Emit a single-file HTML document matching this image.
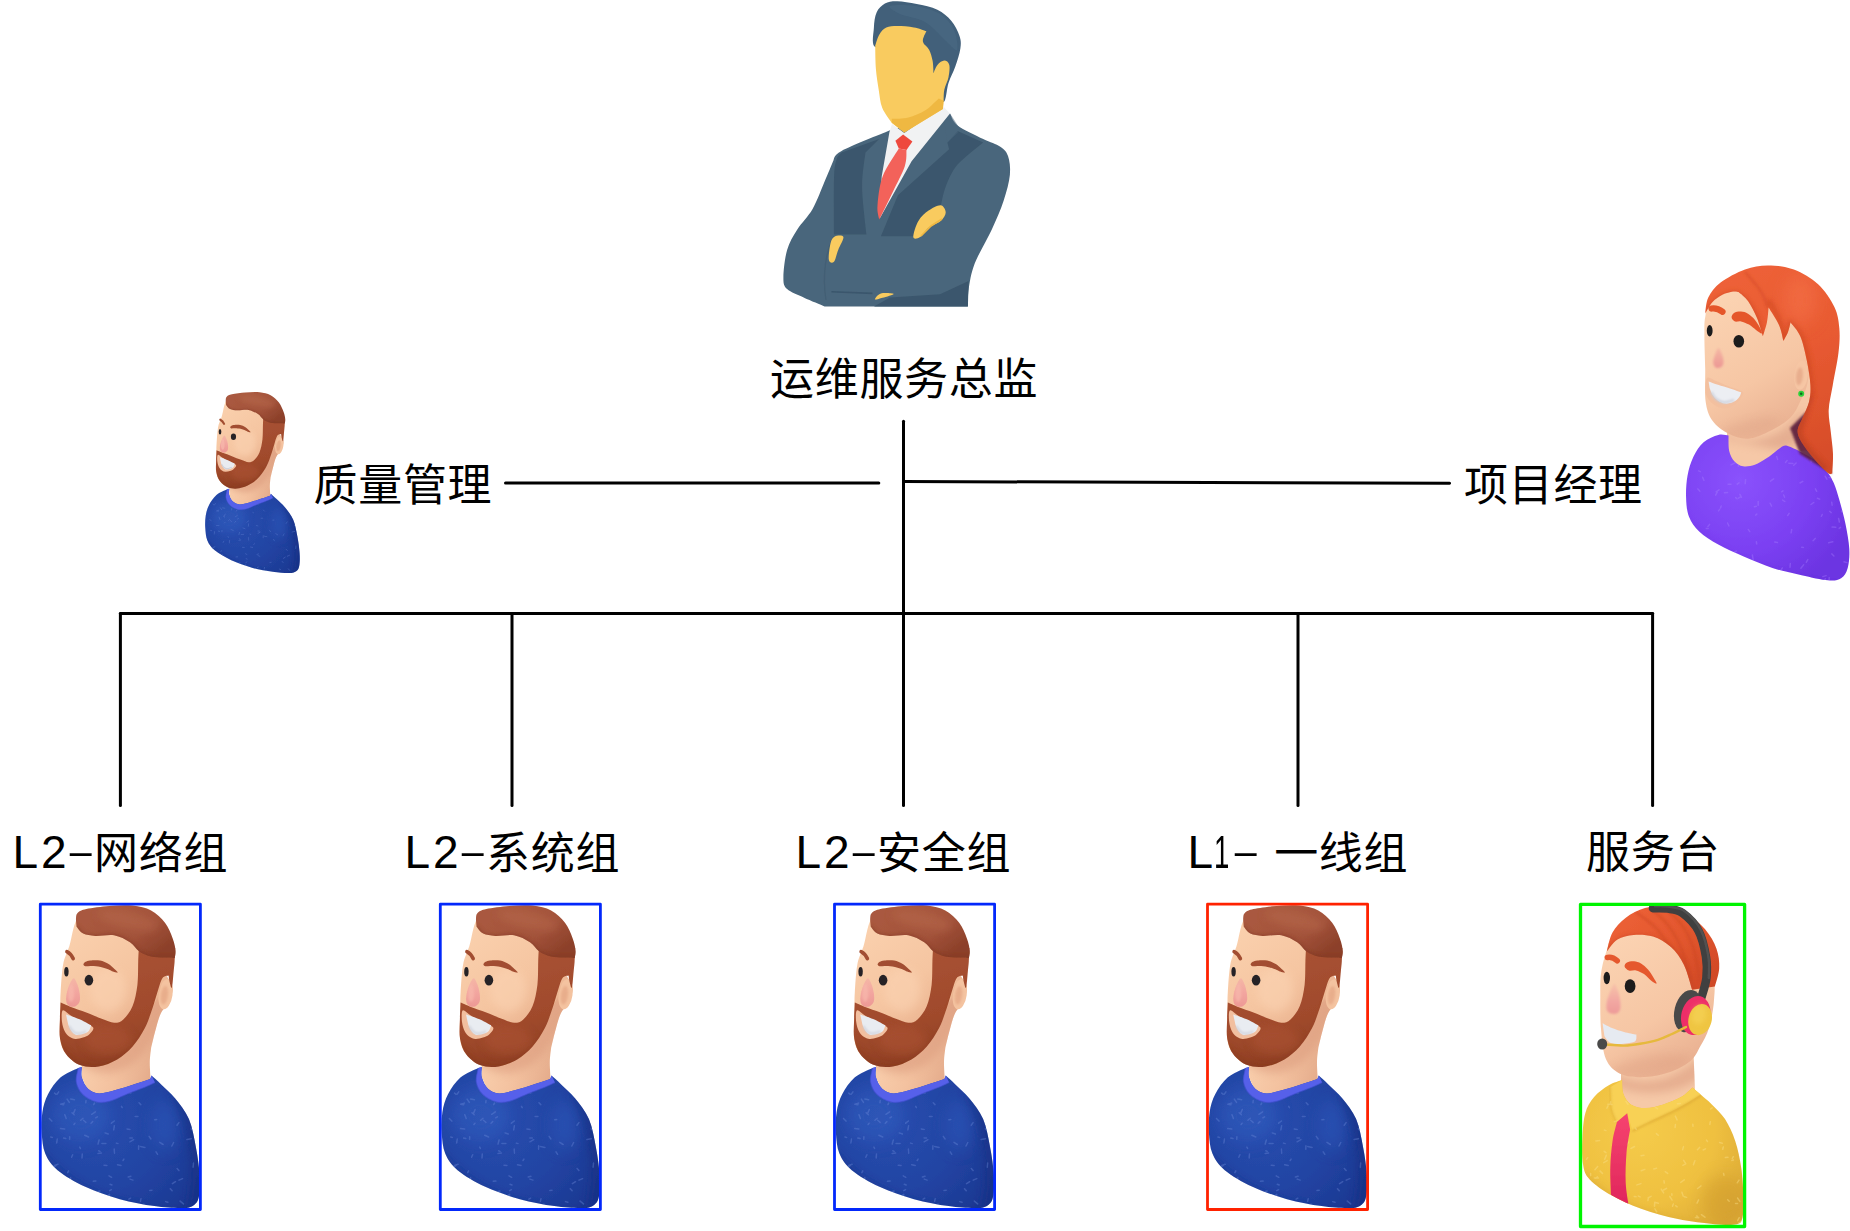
<!DOCTYPE html>
<html lang="zh-CN"><head><meta charset="utf-8"><title>运维服务组织架构</title>
<style>
html,body{margin:0;padding:0;background:#fff;}
body{width:1850px;height:1231px;overflow:hidden;position:relative;}
svg{display:block;}
.lbl{position:absolute;white-space:pre;font-family:"Liberation Sans", "Noto Sans CJK SC", sans-serif;font-size:44px;line-height:64px;height:64px;font-weight:400;color:#000;letter-spacing:0.7px;}
.lat{font-size:46px;letter-spacing:3px;position:relative;top:-1.6px;}
.hy{display:inline-block;transform:scale(1.95,0.75);transform-origin:50% 34.4px;margin:0 6px 0 3px;letter-spacing:0;position:relative;top:-0.6px;}
</style></head><body>
<svg width="1850" height="1231" viewBox="0 0 1850 1231">
<defs>

<filter id="soft" x="-5%" y="-5%" width="110%" height="110%"><feGaussianBlur stdDeviation="0.45"/></filter>
<filter id="b05" x="-5%" y="-5%" width="110%" height="110%"><feGaussianBlur stdDeviation="0.5"/></filter>
<filter id="b07" x="-20%" y="-20%" width="140%" height="140%"><feGaussianBlur stdDeviation="0.7"/></filter>
<filter id="b1" x="-20%" y="-20%" width="140%" height="140%"><feGaussianBlur stdDeviation="1"/></filter>
<filter id="b2" x="-30%" y="-30%" width="160%" height="160%"><feGaussianBlur stdDeviation="2.2"/></filter>
<filter id="b4" x="-40%" y="-40%" width="180%" height="180%"><feGaussianBlur stdDeviation="4.5"/></filter>
<filter id="b8" x="-50%" y="-50%" width="200%" height="200%"><feGaussianBlur stdDeviation="8"/></filter>
<linearGradient id="mSkin" gradientUnits="userSpaceOnUse" x1="70" y1="930" x2="150" y2="1030">
 <stop offset="0" stop-color="#fad0ad"/><stop offset="0.55" stop-color="#f5c5a1"/><stop offset="1" stop-color="#e8af8c"/></linearGradient>
<linearGradient id="mNeck" gradientUnits="userSpaceOnUse" x1="80" y1="1060" x2="155" y2="1085">
 <stop offset="0" stop-color="#f9cfad"/><stop offset="0.5" stop-color="#f3c19f"/><stop offset="1" stop-color="#e2a888"/></linearGradient>
<radialGradient id="mBody" gradientUnits="userSpaceOnUse" cx="95" cy="1120" r="130">
 <stop offset="0" stop-color="#284daf"/><stop offset="0.55" stop-color="#2244a3"/><stop offset="1" stop-color="#1b3790"/></radialGradient>
<linearGradient id="mBeard" gradientUnits="userSpaceOnUse" x1="90" y1="960" x2="120" y2="1068">
 <stop offset="0" stop-color="#a85233"/><stop offset="0.6" stop-color="#a04a2c"/><stop offset="1" stop-color="#8c3d22"/></linearGradient>
<linearGradient id="mHair" gradientUnits="userSpaceOnUse" x1="110" y1="905" x2="150" y2="960">
 <stop offset="0" stop-color="#a9593f"/><stop offset="0.6" stop-color="#a2523a"/><stop offset="1" stop-color="#8c4029"/></linearGradient>
<linearGradient id="mNose" gradientUnits="userSpaceOnUse" x1="72" y1="978" x2="72" y2="1008">
 <stop offset="0" stop-color="#f5b7a6"/><stop offset="0.5" stop-color="#f2a59f"/><stop offset="1" stop-color="#ec9894"/></linearGradient>

<clipPath id="mBodyClip"><path d="M78.3 1068.0C75.3 1069.6 65.5 1073.2 60.4 1077.6C55.4 1082.0 51.0 1088.4 48.0 1094.2C45.0 1100.0 43.4 1105.8 42.4 1112.2C41.4 1118.7 41.2 1126.0 41.7 1132.9C42.2 1139.8 42.6 1147.4 45.2 1153.6C47.9 1159.8 50.9 1164.7 57.6 1170.2C64.3 1175.7 74.9 1182.0 85.3 1186.8C95.7 1191.6 108.3 1196.0 119.8 1199.2C131.3 1202.4 143.9 1204.6 154.3 1206.1C164.7 1207.6 175.3 1208.4 182.0 1208.2C188.7 1208.0 191.5 1206.9 194.4 1204.7C197.3 1202.5 198.3 1200.1 199.2 1195.0C200.1 1189.9 200.2 1182.3 199.6 1174.3C199.0 1166.2 197.6 1155.9 195.8 1146.7C194.0 1137.5 192.4 1127.2 188.9 1119.1C185.4 1111.0 179.6 1104.1 175.0 1098.3C170.4 1092.5 165.1 1088.3 161.2 1084.5C157.3 1080.7 153.2 1077.1 151.6 1075.6L150.2 1079.0C147.4 1079.9 139.4 1082.7 133.6 1084.5C127.8 1086.3 121.3 1088.6 115.6 1090.1C109.8 1091.6 103.7 1093.7 99.1 1093.5C94.5 1093.3 90.9 1091.4 88.0 1088.7C85.1 1086.0 82.8 1081.2 81.8 1077.6C80.8 1074.0 81.8 1068.8 81.8 1067.0L78.3 1068.0Z"/></clipPath>
<clipPath id="mNeckClip"><path d="M81.8 1050.0L81.8 1077.6C82.8 1079.4 85.1 1086.0 88.0 1088.7C90.9 1091.4 94.5 1093.7 99.1 1094.0C103.7 1094.3 109.8 1092.1 115.6 1090.6C121.3 1089.1 127.8 1086.8 133.6 1085.0C139.4 1083.2 147.8 1080.4 150.6 1079.5C150.5 1076.6 149.7 1067.2 149.8 1062.0C149.9 1056.8 150.9 1050.4 151.1 1048.1C151.8 1045.4 153.4 1037.7 155.0 1032.0C156.6 1026.3 158.2 1018.9 160.4 1014.2C162.6 1009.5 166.7 1005.7 168.0 1004.0C168.7 1000.8 175.0 990.7 172.0 985.0C169.0 979.3 162.0 964.2 150.0 970.0C138.0 975.8 108.3 1011.7 100.0 1020.0Z"/></clipPath>
<clipPath id="mBeardClip"><path d="M138.8 948.0C138.7 950.3 138.4 955.6 138.2 961.7C138.0 967.9 138.3 977.5 137.4 984.9C136.5 992.3 134.9 1000.2 132.6 1006.0C130.2 1011.8 126.4 1016.6 123.3 1019.4C120.2 1022.2 117.7 1022.9 114.1 1022.8C110.5 1022.7 106.3 1020.5 101.7 1018.8C97.1 1017.1 91.4 1014.6 86.3 1012.6C81.2 1010.6 75.2 1008.7 70.9 1007.0C66.6 1005.3 62.3 1003.3 60.6 1002.6C60.5 1005.5 60.0 1014.0 59.9 1020.0C59.8 1026.0 59.0 1033.2 60.1 1038.9C61.2 1044.6 62.9 1049.9 66.2 1054.3C69.5 1058.7 74.7 1063.1 80.1 1065.1C85.5 1067.1 92.4 1067.4 98.6 1066.4C104.8 1065.5 111.5 1062.7 117.2 1059.4C122.9 1056.1 128.0 1051.8 132.6 1046.6C137.2 1041.4 141.6 1034.5 144.9 1028.1C148.2 1021.7 150.5 1013.9 152.6 1008.0C154.7 1002.1 155.7 997.6 157.3 992.6C158.9 987.6 160.5 981.1 162.4 978.2C164.3 975.4 167.6 976.0 168.6 975.5C168.8 976.6 169.0 980.0 169.6 982.0C170.2 984.0 171.2 989.2 171.9 987.5C172.6 985.8 173.2 976.3 173.6 972.0C174.0 967.7 174.3 965.7 174.6 961.7C174.9 957.7 175.1 950.3 175.2 948.0L138.8 948.0Z"/></clipPath>
<clipPath id="mHairClip"><path d="M76.6 926.8C76.5 925.3 75.8 920.4 76.0 918.0C76.2 915.6 76.3 914.1 78.0 912.6C79.7 911.1 81.1 910.1 86.3 909.0C91.5 907.9 101.7 906.6 109.4 906.0C117.1 905.4 125.6 904.8 132.6 905.6C139.5 906.4 145.7 907.7 151.1 910.6C156.5 913.5 161.4 918.2 165.0 922.8C168.6 927.4 170.9 933.7 172.7 938.4C174.5 943.1 175.3 947.6 175.6 950.9C175.9 954.2 174.8 956.8 174.6 958.0C173.8 957.9 171.9 957.5 170.0 957.4C168.1 957.3 166.6 957.7 163.4 957.6C160.2 957.5 155.1 957.6 151.1 956.6C147.1 955.6 142.9 954.0 139.4 951.6C135.9 949.2 134.2 944.9 130.0 942.2C125.8 939.5 119.8 936.2 114.1 935.2C108.3 934.2 100.7 936.2 95.5 935.9C90.3 935.6 86.4 935.1 83.2 933.6C80.0 932.1 77.7 927.9 76.6 926.8Z"/></clipPath>
<g id="man" filter="url(#soft)">
<path d="M81.8 1050.0L81.8 1077.6C82.8 1079.4 85.1 1086.0 88.0 1088.7C90.9 1091.4 94.5 1093.7 99.1 1094.0C103.7 1094.3 109.8 1092.1 115.6 1090.6C121.3 1089.1 127.8 1086.8 133.6 1085.0C139.4 1083.2 147.8 1080.4 150.6 1079.5C150.5 1076.6 149.7 1067.2 149.8 1062.0C149.9 1056.8 150.9 1050.4 151.1 1048.1C151.8 1045.4 153.4 1037.7 155.0 1032.0C156.6 1026.3 158.2 1018.9 160.4 1014.2C162.6 1009.5 166.7 1005.7 168.0 1004.0C168.7 1000.8 175.0 990.7 172.0 985.0C169.0 979.3 162.0 964.2 150.0 970.0C138.0 975.8 108.3 1011.7 100.0 1020.0Z" fill="url(#mNeck)"/>
<g clip-path="url(#mNeckClip)">
<path d="M60 1040 C80 1075 110 1082 135 1062 C150 1048 160 1030 170 1000 L120 990Z" fill="#d9987a" opacity="0.55" filter="url(#b4)"/>
</g>
<path d="M78.3 1068.0C75.3 1069.6 65.5 1073.2 60.4 1077.6C55.4 1082.0 51.0 1088.4 48.0 1094.2C45.0 1100.0 43.4 1105.8 42.4 1112.2C41.4 1118.7 41.2 1126.0 41.7 1132.9C42.2 1139.8 42.6 1147.4 45.2 1153.6C47.9 1159.8 50.9 1164.7 57.6 1170.2C64.3 1175.7 74.9 1182.0 85.3 1186.8C95.7 1191.6 108.3 1196.0 119.8 1199.2C131.3 1202.4 143.9 1204.6 154.3 1206.1C164.7 1207.6 175.3 1208.4 182.0 1208.2C188.7 1208.0 191.5 1206.9 194.4 1204.7C197.3 1202.5 198.3 1200.1 199.2 1195.0C200.1 1189.9 200.2 1182.3 199.6 1174.3C199.0 1166.2 197.6 1155.9 195.8 1146.7C194.0 1137.5 192.4 1127.2 188.9 1119.1C185.4 1111.0 179.6 1104.1 175.0 1098.3C170.4 1092.5 165.1 1088.3 161.2 1084.5C157.3 1080.7 153.2 1077.1 151.6 1075.6L150.2 1079.0C147.4 1079.9 139.4 1082.7 133.6 1084.5C127.8 1086.3 121.3 1088.6 115.6 1090.1C109.8 1091.6 103.7 1093.7 99.1 1093.5C94.5 1093.3 90.9 1091.4 88.0 1088.7C85.1 1086.0 82.8 1081.2 81.8 1077.6C80.8 1074.0 81.8 1068.8 81.8 1067.0L78.3 1068.0Z" fill="url(#mBody)"/>
<g clip-path="url(#mBodyClip)">
<path d="M40 1150 C70 1190 130 1215 205 1215 L205 1230 L30 1230Z" fill="#152e80" opacity="0.55" filter="url(#b4)"/>
<path d="M200 1100 L206 1215 L185 1215 C196 1180 190 1130 170 1095Z" fill="#152e80" opacity="0.5" filter="url(#b4)"/>
<ellipse cx="80" cy="1115" rx="30" ry="28" fill="#3460c2" opacity="0.45" filter="url(#b8)"/>
<ellipse cx="165" cy="1125" rx="14" ry="26" fill="#3460c2" opacity="0.4" filter="url(#b8)"/>
<path d="M94.5 1103.1l-0.8 1.5M127.0 1128.9l3.0 0.5M50.7 1137.0l1.7 0.4M110.0 1184.2l2.0 0.8M141.0 1198.7l-0.6 2.6M194.4 1090.6l-2.1 1.0M67.1 1099.1l2.2 3.3M72.7 1154.8l-1.1 2.4M128.8 1092.5l2.1 0.4M149.1 1136.3l1.8 2.7M114.3 1121.0l-2.9 2.2M82.3 1153.9l-0.3 4.1M156.6 1119.6l-1.9 0.1M109.0 1175.9l2.6 1.4M51.0 1165.2l-2.4 2.2M178.9 1122.6l-1.9 2.7M133.7 1139.7l-3.8 2.1M117.5 1164.7l3.5 0.7M144.0 1204.2l-2.0 1.3M104.0 1165.2l2.9 0.2M70.7 1099.1l3.7 0.7M64.8 1114.7l1.4 3.9M57.3 1138.9l-0.6 4.1M170.3 1188.7l1.8 2.1M99.9 1191.1l-1.9 0.3M72.0 1112.8l2.2 2.0M135.1 1116.5l2.8 0.0M101.5 1153.0l-3.5 0.5M123.9 1159.1l-0.9 1.4M182.6 1178.6l-3.6 1.5M105.0 1132.9l3.2 1.1M54.5 1093.1l1.6 1.2M97.0 1091.3l2.0 0.0M60.5 1128.6l4.1 0.3M139.0 1102.8l1.8 1.8M100.7 1099.7l-4.0 2.1M116.3 1143.1l1.7 0.5M97.4 1116.8l-1.7 1.0M48.5 1199.1l-0.2 1.9M128.1 1088.2l-0.4 4.4M177.1 1168.5l1.8 1.9M70.6 1177.6l-0.4 3.8M95.4 1111.8l-3.7 2.5M175.5 1181.7l-3.1 2.0M79.7 1147.1l0.7 1.4M49.3 1118.5l2.5 2.6M191.3 1138.7l-4.4 0.9M191.1 1128.8l1.7 1.4M75.1 1109.5l-1.6 3.9M173.6 1142.5l-1.8 3.5M58.0 1164.3l-3.7 1.1M159.8 1142.4l3.3 2.1M95.9 1181.1l-2.7 0.2M106.4 1198.6l-1.3 1.5M64.4 1103.1l-3.7 1.2M67.4 1184.2l-3.5 0.2M98.6 1150.8l1.4 0.6M193.5 1163.0l-0.4 4.3M111.4 1189.6l-1.8 1.1M83.5 1120.2l2.4 2.2M84.7 1135.3l3.9 1.7M99.1 1140.0l-1.1 4.1M109.4 1195.1l-0.0 3.1M125.1 1087.2l0.4 2.0M45.6 1180.9l2.5 1.5M156.0 1151.8l1.6 2.6M130.0 1179.1l3.0 1.0M83.0 1118.2l-2.3 2.0M130.9 1176.2l-2.7 0.8M138.7 1145.7l-0.1 3.6M114.2 1149.0l0.3 4.3M152.0 1190.2l-2.2 0.4M130.6 1198.2l-1.7 0.9M63.6 1138.1l2.2 0.5M56.2 1165.3l-3.3 2.6M68.6 1170.9l-0.9 1.7M180.1 1201.1l3.4 2.8M105.9 1143.5l-4.0 0.1M69.7 1136.8l-0.1 2.5M74.9 1123.2l-1.0 1.2M129.8 1137.9l2.5 0.1M140.5 1146.5l4.4 0.9M165.6 1201.6l2.2 0.7M51.1 1178.5l1.2 1.4M109.6 1194.4l-1.9 1.2M67.9 1195.3l-0.8 3.5M58.7 1091.9l-1.5 2.3M56.1 1197.6l-1.6 3.6M57.8 1187.7l4.0 0.8M114.4 1125.7l-0.7 4.2M86.0 1100.5l-0.2 2.2M61.7 1104.4l2.1 0.3M92.7 1121.6l-1.7 1.6M121.5 1106.3l0.7 1.4M83.3 1086.8l-2.1 2.3" stroke="#6f8fdc" stroke-width="1.5" opacity="0.36" fill="none" stroke-linecap="round" filter="url(#b05)"/>
</g>
<path d="M78.3 1068.0C78.0 1070.3 75.6 1077.4 76.3 1081.8C77.0 1086.2 79.2 1090.9 82.5 1094.2C85.8 1097.5 91.7 1100.7 96.3 1101.8C100.9 1102.9 105.0 1102.4 110.1 1101.1C115.2 1099.8 120.9 1096.5 126.7 1094.2C132.5 1091.9 140.0 1089.2 144.7 1087.3C149.4 1085.3 153.3 1083.3 155.0 1082.5L151.6 1075.6L150.2 1079.0C147.4 1079.9 139.4 1082.7 133.6 1084.5C127.8 1086.3 121.3 1088.6 115.6 1090.1C109.8 1091.6 103.7 1093.7 99.1 1093.5C94.5 1093.3 90.9 1091.4 88.0 1088.7C85.1 1086.0 82.8 1081.2 81.8 1077.6C80.8 1074.0 81.8 1068.8 81.8 1067.0L78.3 1068.0Z" fill="#5661ea"/>
<path d="M78.3 1068.0C78.0 1070.3 75.6 1077.4 76.3 1081.8C77.0 1086.2 79.2 1090.9 82.5 1094.2C85.8 1097.5 91.7 1100.7 96.3 1101.8C100.9 1102.9 105.0 1102.4 110.1 1101.1C115.2 1099.8 120.9 1096.5 126.7 1094.2C132.5 1091.9 140.0 1089.2 144.7 1087.3C149.4 1085.3 153.3 1083.3 155.0 1082.5" fill="none" stroke="#4350d2" stroke-width="1.2" opacity="0.6"/>
<g transform="rotate(8 165.8 994)"><ellipse cx="165.6" cy="994.3" rx="7" ry="15.2" fill="#f4c3a0"/><ellipse cx="164.6" cy="995.5" rx="3.6" ry="9.5" fill="#e6a987" opacity="0.8" filter="url(#b1)"/></g>
<path d="M80.0 915.0C73.2 921.0 72.1 938.0 69.3 946.3C66.5 954.6 64.5 957.1 63.1 964.8C61.7 972.5 61.1 985.1 60.6 992.6C60.1 1000.1 60.4 1002.3 60.3 1010.0C60.2 1017.7 59.1 1031.5 60.1 1038.9C61.1 1046.3 62.9 1049.9 66.2 1054.3C69.5 1058.7 74.7 1063.2 80.1 1065.1C85.5 1067.0 92.4 1066.9 98.6 1065.9C104.8 1064.9 111.5 1062.1 117.2 1058.9C122.9 1055.7 128.0 1051.7 132.6 1046.6C137.2 1041.5 141.6 1034.5 144.9 1028.1C148.2 1021.7 150.1 1014.4 152.6 1008.0C155.1 1001.6 157.9 998.0 160.0 990.0C162.1 982.0 166.7 970.8 165.0 960.0C163.3 949.2 159.2 933.3 150.0 925.0C140.8 916.7 121.7 911.7 110.0 910.0C98.3 908.3 86.8 909.0 80.0 915.0Z" fill="url(#mSkin)"/>
<ellipse cx="108" cy="990" rx="18" ry="22" fill="#fbd3b2" opacity="0.6" filter="url(#b4)"/>
<path d="M138.8 948.0C138.7 950.3 138.4 955.6 138.2 961.7C138.0 967.9 138.3 977.5 137.4 984.9C136.5 992.3 134.9 1000.2 132.6 1006.0C130.2 1011.8 126.4 1016.6 123.3 1019.4C120.2 1022.2 117.7 1022.9 114.1 1022.8C110.5 1022.7 106.3 1020.5 101.7 1018.8C97.1 1017.1 91.4 1014.6 86.3 1012.6C81.2 1010.6 75.2 1008.7 70.9 1007.0C66.6 1005.3 62.3 1003.3 60.6 1002.6C60.5 1005.5 60.0 1014.0 59.9 1020.0C59.8 1026.0 59.0 1033.2 60.1 1038.9C61.2 1044.6 62.9 1049.9 66.2 1054.3C69.5 1058.7 74.7 1063.1 80.1 1065.1C85.5 1067.1 92.4 1067.4 98.6 1066.4C104.8 1065.5 111.5 1062.7 117.2 1059.4C122.9 1056.1 128.0 1051.8 132.6 1046.6C137.2 1041.4 141.6 1034.5 144.9 1028.1C148.2 1021.7 150.5 1013.9 152.6 1008.0C154.7 1002.1 155.7 997.6 157.3 992.6C158.9 987.6 160.5 981.1 162.4 978.2C164.3 975.4 167.6 976.0 168.6 975.5C168.8 976.6 169.0 980.0 169.6 982.0C170.2 984.0 171.2 989.2 171.9 987.5C172.6 985.8 173.2 976.3 173.6 972.0C174.0 967.7 174.3 965.7 174.6 961.7C174.9 957.7 175.1 950.3 175.2 948.0L138.8 948.0Z" fill="url(#mBeard)"/>
<g clip-path="url(#mBeardClip)">
<path d="M56 1040 C70 1072 110 1078 140 1050 C150 1040 160 1015 165 990 L180 990 L170 1080 L50 1080Z" fill="#7a3018" opacity="0.55" filter="url(#b4)"/>
<ellipse cx="108" cy="1040" rx="24" ry="14" fill="#ad5434" opacity="0.55" filter="url(#b4)"/>
<path d="M139 950 L139 1000" stroke="#b25a3a" stroke-width="3" opacity="0.35" filter="url(#b2)"/>
</g>
<path d="M62.6 1010.5C61.3 1011.7 61.6 1018.5 62.0 1022.0C62.4 1025.5 63.5 1028.7 64.7 1031.2C66.0 1033.7 67.7 1035.5 69.5 1036.8C71.3 1038.1 73.2 1038.8 75.5 1038.9C77.8 1039.0 80.7 1038.4 83.0 1037.6C85.3 1036.8 87.7 1035.9 89.4 1034.2C91.1 1032.5 94.6 1029.4 93.0 1027.2C91.4 1025.0 83.8 1023.0 80.0 1021.0C76.2 1019.0 72.9 1016.8 70.0 1015.0C67.1 1013.2 63.9 1009.3 62.6 1010.5Z" fill="#f2bf9f"/>
<path d="M66.0 1014.6C67.5 1015.1 72.0 1016.5 75.0 1017.6C78.0 1018.7 81.3 1020.1 84.0 1021.4C86.7 1022.7 90.0 1024.6 91.2 1025.2C90.9 1026.0 90.1 1029.0 89.3 1030.3C88.5 1031.5 87.8 1032.0 86.3 1032.7C84.8 1033.4 82.3 1034.2 80.5 1034.6C78.7 1034.9 77.0 1035.4 75.5 1034.8C74.0 1034.2 72.4 1032.4 71.2 1030.8C70.0 1029.2 68.8 1026.0 68.3 1025.0L66.0 1014.6Z" fill="#e9ecf1"/>
<path d="M69.0 1026.0C69.7 1026.9 71.5 1030.2 73.0 1031.5C74.5 1032.8 75.8 1033.6 78.0 1033.6C80.2 1033.6 84.7 1031.8 86.0 1031.5" fill="none" stroke="#c9cdd8" stroke-width="2" opacity="0.8" filter="url(#b1)"/>
<path d="M73.6 978.2C72.3 978.4 70.6 982.4 69.4 985.0C68.2 987.6 67.1 991.2 66.6 994.0C66.1 996.8 65.9 1000.0 66.4 1002.0C66.9 1004.0 68.1 1005.5 69.6 1006.2C71.1 1006.9 73.9 1007.0 75.6 1006.2C77.3 1005.4 78.9 1003.8 79.6 1001.6C80.3 999.4 80.0 995.9 79.6 993.0C79.2 990.1 78.2 986.5 77.2 984.0C76.2 981.5 74.9 978.0 73.6 978.2Z" fill="url(#mNose)" filter="url(#b07)"/>
<path d="M70.0 984.0C69.2 985.7 67.8 993.0 68.0 996.0C68.2 999.0 70.0 1002.0 71.0 1002.0C72.0 1002.0 73.7 998.7 74.0 996.0C74.3 993.3 73.7 988.0 73.0 986.0C72.3 984.0 70.8 982.3 70.0 984.0Z" fill="#f8b9ad" opacity="0.7" filter="url(#b1)"/>
<ellipse cx="66.4" cy="971.7" rx="2.2" ry="4.7" fill="#252326"/>
<ellipse cx="88.9" cy="980.2" rx="4.3" ry="5.4" fill="#252326"/>
<path d="M66.9 951.6 Q70.8 953.6 73.2 958.6" stroke="#a24e30" stroke-width="3.6" stroke-linecap="round" fill="none"/>
<path d="M83.4 964.4C83.4 963.7 84.5 962.5 85.6 961.8C86.7 961.1 87.8 960.6 90.2 960.4C92.6 960.2 96.9 959.9 100.0 960.5C103.1 961.1 106.2 962.4 109.0 964.2C111.8 966.0 115.4 969.8 116.8 971.2C118.2 972.6 118.0 972.5 117.4 972.6C116.8 972.7 114.5 972.2 113.0 971.6C111.5 971.0 110.5 970.1 108.1 969.2C105.6 968.4 101.3 967.0 98.3 966.5C95.3 966.0 92.3 966.0 90.2 966.0C88.1 966.0 86.5 966.5 85.4 966.2C84.3 965.9 83.4 965.1 83.4 964.4Z" fill="#a24e30"/>
<path d="M76.6 926.8C76.5 925.3 75.8 920.4 76.0 918.0C76.2 915.6 76.3 914.1 78.0 912.6C79.7 911.1 81.1 910.1 86.3 909.0C91.5 907.9 101.7 906.6 109.4 906.0C117.1 905.4 125.6 904.8 132.6 905.6C139.5 906.4 145.7 907.7 151.1 910.6C156.5 913.5 161.4 918.2 165.0 922.8C168.6 927.4 170.9 933.7 172.7 938.4C174.5 943.1 175.3 947.6 175.6 950.9C175.9 954.2 174.8 956.8 174.6 958.0C173.8 957.9 171.9 957.5 170.0 957.4C168.1 957.3 166.6 957.7 163.4 957.6C160.2 957.5 155.1 957.6 151.1 956.6C147.1 955.6 142.9 954.0 139.4 951.6C135.9 949.2 134.2 944.9 130.0 942.2C125.8 939.5 119.8 936.2 114.1 935.2C108.3 934.2 100.7 936.2 95.5 935.9C90.3 935.6 86.4 935.1 83.2 933.6C80.0 932.1 77.7 927.9 76.6 926.8Z" fill="url(#mHair)"/>
<g clip-path="url(#mHairClip)">
<path d="M180.0 960.0C177.2 960.1 168.2 960.7 163.4 960.6C158.6 960.5 155.3 960.7 151.1 959.6C146.9 958.5 141.7 956.4 138.0 954.0C134.3 951.6 133.0 947.6 129.0 945.0C125.0 942.4 119.7 939.2 114.1 938.2C108.5 937.2 100.8 939.2 95.5 938.9C90.2 938.6 85.6 938.4 82.0 936.6C78.4 934.8 75.3 929.4 74.0 928.0" stroke="#7d3520" stroke-width="7" opacity="0.6" fill="none" filter="url(#b2)"/>
<ellipse cx="128" cy="920" rx="30" ry="9" fill="#b5664b" opacity="0.6" filter="url(#b4)" transform="rotate(12 128 920)"/>
</g>
</g>


<radialGradient id="gBody" gradientUnits="userSpaceOnUse" cx="1740" cy="480" r="120">
 <stop offset="0" stop-color="#8a52fc"/><stop offset="0.6" stop-color="#7b40f2"/><stop offset="1" stop-color="#6c34e2"/></radialGradient>
<linearGradient id="gSkin" gradientUnits="userSpaceOnUse" x1="1715" y1="300" x2="1790" y2="430">
 <stop offset="0" stop-color="#fbd3b2"/><stop offset="0.6" stop-color="#f6c6a4"/><stop offset="1" stop-color="#e9b091"/></linearGradient>
<linearGradient id="gHair" gradientUnits="userSpaceOnUse" x1="1740" y1="265" x2="1835" y2="470">
 <stop offset="0" stop-color="#ee6238"/><stop offset="0.45" stop-color="#e85a31"/><stop offset="1" stop-color="#d44b28"/></linearGradient>
<linearGradient id="gNose" gradientUnits="userSpaceOnUse" x1="1718" y1="348" x2="1718" y2="368">
 <stop offset="0" stop-color="#f5b9a4"/><stop offset="1" stop-color="#ec9794"/></linearGradient>


<radialGradient id="aBody" gradientUnits="userSpaceOnUse" cx="1640" cy="1130" r="125">
 <stop offset="0" stop-color="#f5cb4a"/><stop offset="0.6" stop-color="#efc040"/><stop offset="1" stop-color="#dba935"/></radialGradient>
<linearGradient id="aSkin" gradientUnits="userSpaceOnUse" x1="1610" y1="940" x2="1690" y2="1070">
 <stop offset="0" stop-color="#fbd3b2"/><stop offset="0.6" stop-color="#f6c6a4"/><stop offset="1" stop-color="#e8ae8f"/></linearGradient>
<linearGradient id="aHair" gradientUnits="userSpaceOnUse" x1="1630" y1="905" x2="1715" y2="985">
 <stop offset="0" stop-color="#ec6036"/><stop offset="0.5" stop-color="#e3572e"/><stop offset="1" stop-color="#cf4826"/></linearGradient>
<linearGradient id="aNose" gradientUnits="userSpaceOnUse" x1="1612" y1="985" x2="1612" y2="1013">
 <stop offset="0" stop-color="#f6c0a8"/><stop offset="0.6" stop-color="#f2a7a2"/><stop offset="1" stop-color="#ee9c99"/></linearGradient>
<linearGradient id="aTie" gradientUnits="userSpaceOnUse" x1="1620" y1="1113" x2="1620" y2="1205">
 <stop offset="0" stop-color="#f6446f"/><stop offset="1" stop-color="#e0265c"/></linearGradient>

</defs>
<g stroke="#000" stroke-width="3" stroke-linecap="round" fill="none">
<line x1="903.5" y1="421.3" x2="903.5" y2="805.4"/>
<line x1="505.5" y1="483.1" x2="878.8" y2="483.1"/>
<line x1="904.0" y1="481.5" x2="1449.6" y2="483.3"/>
<line x1="120.4" y1="613.5" x2="1652.6" y2="613.5"/>
<line x1="120.4" y1="613.5" x2="120.4" y2="805.4"/>
<line x1="512.0" y1="613.5" x2="512.0" y2="805.4"/>
<line x1="1298.0" y1="613.5" x2="1298.0" y2="805.4"/>
<line x1="1652.6" y1="613.5" x2="1652.6" y2="805.4"/>
</g>
<g id="boss" filter="url(#soft)">
<path d="M875.2 47.0C870.9 44.9 873.7 33.4 873.9 27.6C874.1 21.8 874.8 16.4 876.6 12.4C878.4 8.4 881.5 5.4 884.9 3.5C888.3 1.6 892.0 1.1 897.3 1.2C902.6 1.3 910.0 2.7 916.7 4.1C923.4 5.5 931.6 6.9 937.4 9.7C943.1 12.5 947.5 16.3 951.2 20.7C954.9 25.1 958.0 31.3 959.5 35.9C961.0 40.5 961.1 43.2 960.4 48.3C959.7 53.4 957.4 60.5 955.4 66.3C953.4 72.1 950.5 77.0 948.5 82.9C946.5 88.9 946.3 102.5 943.2 102.0C940.1 101.5 937.2 90.3 930.0 80.0C922.8 69.7 909.1 45.5 900.0 40.0C890.9 34.5 879.6 49.1 875.2 47.0Z" fill="#42607a"/>
<path d="M890.0 6.0C892.5 4.7 906.7 4.7 915.0 6.0C923.3 7.3 933.5 10.0 940.0 14.0C946.5 18.0 951.2 24.0 954.0 30.0C956.8 36.0 958.5 48.3 957.0 50.0C955.5 51.7 950.3 44.7 945.0 40.0C939.7 35.3 932.5 26.3 925.0 22.0C917.5 17.7 905.8 16.7 900.0 14.0C894.2 11.3 887.5 7.3 890.0 6.0Z" fill="#4a6a84" opacity="0.6"/>
<path d="M950.0 113.4C951.3 115.4 952.1 121.1 957.6 125.4C963.1 129.7 976.1 135.4 983.2 139.0C990.3 142.6 996.2 143.8 1000.3 146.7C1004.4 149.5 1006.4 151.4 1008.0 156.1C1009.6 160.8 1010.6 167.4 1009.9 174.8C1009.2 182.2 1006.7 191.3 1003.7 200.4C1000.7 209.5 996.6 218.9 991.8 229.4C987.0 239.9 978.6 253.6 974.7 263.5C970.9 273.4 969.8 282.0 968.7 289.1C967.6 296.2 968.0 303.5 967.9 306.4L824.6 306.4C821.2 304.9 810.4 300.6 804.1 297.7C797.9 294.8 790.6 292.5 787.1 289.1C783.6 285.7 783.4 283.7 783.4 277.2C783.4 270.7 784.8 257.9 787.1 249.9C789.4 241.9 793.0 236.2 797.3 229.4C801.5 222.6 808.0 216.9 812.6 208.9C817.2 200.9 821.2 189.6 824.6 181.6C828.0 173.6 831.7 164.6 833.1 161.2C834.5 159.5 832.2 156.0 841.6 150.9C851.0 145.8 881.4 133.9 889.4 130.5L950.0 113.4Z" fill="#4a667b"/>
<path d="M841.6 152.6L879.2 139.0L865.5 152.6C864.9 158.3 862.0 173.2 862.1 186.8C862.2 200.5 865.7 226.6 866.4 234.5L834.0 234.5C834.0 225.1 833.6 190.7 834.0 178.2C834.4 165.7 835.2 163.8 836.5 159.5C837.8 155.2 840.8 153.8 841.6 152.6Z" fill="#3a576d"/>
<path d="M957.6 131.0L983.2 142.4C978.9 146.1 963.9 157.2 957.6 164.6C951.4 172.0 948.5 179.7 945.7 186.8C942.9 193.9 941.5 203.6 940.6 207.0L913.3 236.2L880.9 236.2L897.9 195.3L949.1 149.2L947.4 142.4Z" fill="#3a576d"/>
<path d="M947.4 142.4 L957.6 133 L959.4 128 L950 113.4 L944 120Z" fill="#4a667b" opacity="0.55"/>
<path d="M874 306.4 L890 297.6 L940 294.2 L968.6 281 L967.9 306.4Z" fill="#3a576d"/>
<path d="M831.4 291.7 L872.4 293.4" stroke="#3a576d" stroke-width="1.6" fill="none"/>
<path d="M834 236 C826 250 822 275 826 300" stroke="#3a576d" stroke-width="1.2" fill="none" opacity="0.5"/>
<path d="M892 124 L904.3 133 L942.9 106 L950 113.4 L911.6 161.2 L880 218 L881.7 176.5 L889.4 132.2Z" fill="#f1f2f3"/>
<path d="M875.2 45.6C875.9 43.8 877.5 37.5 879.4 34.5C881.2 31.5 883.3 29.0 886.3 27.6C889.3 26.2 892.7 26.0 897.3 26.0C901.9 26.0 909.0 26.5 913.9 27.4C918.8 28.2 924.3 30.5 926.4 31.1C925.8 32.8 922.4 38.3 922.9 41.4C923.4 44.5 927.5 46.5 929.1 49.7C930.7 52.9 931.9 56.9 932.6 60.8C933.3 64.7 933.4 71.1 933.5 73.2C934.1 71.8 935.6 67.0 937.4 64.9C939.2 62.8 942.3 60.6 944.3 60.6C946.3 60.6 948.6 62.1 949.3 64.9C950.0 67.7 949.3 73.2 948.5 77.3C947.7 81.4 945.1 85.9 944.3 89.8C943.5 93.7 943.8 97.6 943.6 100.8C943.4 104.0 943.0 107.7 942.9 109.1L904.3 132.4L891.8 122.9C890.2 120.4 884.4 113.2 882.2 107.7C880.0 102.2 879.8 96.2 878.7 89.8C877.7 83.4 876.5 76.5 875.9 69.1C875.3 61.7 875.3 49.5 875.2 45.6Z" fill="#f9cb5e"/>
<path d="M891.8 118.8C894.6 118.6 902.9 118.8 908.4 117.4C913.9 116.0 919.9 113.7 925.0 110.5C930.1 107.3 936.5 100.4 938.8 98.4L943.6 100.8L942.9 109.1L904.3 132.4L891.8 122.5Z" fill="#efb843"/>
<path d="M895.4 140.7 L903.1 134.5 L912.4 141.6 L906.5 150.1 L898.8 148.4Z" fill="#ee4a3e"/>
<path d="M898.8 148.4L906.5 150.1C906.2 152.8 907.1 159.3 904.8 166.3C902.5 173.3 897.1 183.0 892.8 191.9C888.5 200.8 881.5 215.0 879.2 219.6C878.9 217.2 876.9 212.7 877.5 205.5C878.1 198.3 879.1 186.0 882.6 176.5C886.1 167.0 896.1 153.1 898.8 148.4Z" fill="#f3625a"/>
<path d="M913.3 237.1C913.0 234.4 915.8 225.3 918.4 220.9C921.0 216.5 924.9 213.2 928.6 210.6C932.3 208.0 937.8 205.0 940.6 205.3C943.5 205.6 945.7 209.8 945.7 212.4C945.7 215.0 943.5 218.4 940.6 220.9C937.8 223.4 932.0 225.0 928.6 227.7C925.2 230.4 922.7 235.5 920.1 237.1C917.5 238.7 913.6 239.8 913.3 237.1Z" fill="#f9cb5e"/>
<path d="M921 236 L931 226 L942 219" stroke="#efb843" stroke-width="1.6" fill="none"/>
<path d="M828.9 260.1C828.3 257.0 829.6 247.1 830.6 243.1C831.6 239.1 832.7 237.4 834.8 236.4C836.9 235.4 842.8 234.8 843.4 237.1C844.0 239.3 839.8 245.8 838.2 249.9C836.6 254.0 835.5 260.1 834.0 261.8C832.5 263.5 829.5 263.2 828.9 260.1Z" fill="#f9cb5e"/>
<path d="M874.9 299.4C874.6 298.7 877.8 294.3 880.9 293.4C884.0 292.5 893.4 293.2 893.7 293.9C894.0 294.6 885.7 296.8 882.6 297.7C879.5 298.6 875.2 300.1 874.9 299.4Z" fill="#f9cb5e"/>
</g>
<g id="girl" filter="url(#soft)">
<clipPath id="gBodyClip"><path d="M1728.5 435.6C1726.8 435.5 1722.5 433.8 1718.3 434.9C1714.1 436.0 1707.8 438.5 1703.6 442.2C1699.4 445.9 1696.1 451.2 1693.4 456.8C1690.7 462.4 1688.7 469.0 1687.5 475.8C1686.3 482.6 1685.8 490.9 1686.1 497.7C1686.3 504.5 1686.8 511.1 1689.0 516.7C1691.2 522.3 1694.3 526.8 1699.2 531.4C1704.1 536.0 1711.0 540.4 1718.3 544.5C1725.6 548.6 1734.1 552.3 1743.1 556.2C1752.1 560.1 1762.7 564.7 1772.4 567.9C1782.2 571.1 1792.3 573.1 1801.6 575.2C1810.8 577.3 1821.3 579.8 1827.9 580.3C1834.5 580.8 1837.8 580.3 1841.1 578.2C1844.4 576.1 1846.3 572.8 1847.7 567.9C1849.1 563.0 1849.7 556.2 1849.3 548.9C1848.9 541.6 1847.1 532.1 1845.5 524.1C1843.9 516.1 1841.5 507.5 1839.6 500.7C1837.6 493.9 1835.8 487.7 1833.8 483.1C1831.8 478.5 1830.8 476.5 1827.9 472.9C1825.0 469.2 1820.6 464.6 1816.2 461.2C1811.8 457.8 1806.5 455.0 1801.6 452.4C1796.7 449.8 1790.4 446.6 1787.0 445.8C1783.6 445.0 1782.1 447.1 1781.1 447.3C1780.1 448.0 1777.7 449.9 1775.3 451.7C1772.9 453.5 1769.9 456.1 1766.5 458.3C1763.1 460.5 1758.7 463.5 1754.8 464.8C1750.9 466.1 1746.5 466.9 1743.1 466.3C1739.7 465.7 1736.6 463.8 1734.3 461.2C1732.0 458.6 1730.2 455.2 1729.2 450.9C1728.2 446.6 1728.6 438.2 1728.5 435.6Z"/></clipPath>
<clipPath id="gNeckClip"><path d="M1727 425 L1727 456 C1732 478 1766 474 1786 452 L1814 450 L1814 362 L1795 362Z"/></clipPath>
<path d="M1727 425 L1727 456 C1732 478 1766 474 1786 452 L1814 450 L1814 362 L1795 362Z" fill="#f6c8a7"/>
<g clip-path="url(#gNeckClip)"><path d="M1712 425 C1735 447 1775 447 1802 410 L1812 440 L1780 450 L1728 440Z" fill="#d79a80" opacity="0.55" filter="url(#b4)"/></g>
<path d="M1728.5 435.6C1726.8 435.5 1722.5 433.8 1718.3 434.9C1714.1 436.0 1707.8 438.5 1703.6 442.2C1699.4 445.9 1696.1 451.2 1693.4 456.8C1690.7 462.4 1688.7 469.0 1687.5 475.8C1686.3 482.6 1685.8 490.9 1686.1 497.7C1686.3 504.5 1686.8 511.1 1689.0 516.7C1691.2 522.3 1694.3 526.8 1699.2 531.4C1704.1 536.0 1711.0 540.4 1718.3 544.5C1725.6 548.6 1734.1 552.3 1743.1 556.2C1752.1 560.1 1762.7 564.7 1772.4 567.9C1782.2 571.1 1792.3 573.1 1801.6 575.2C1810.8 577.3 1821.3 579.8 1827.9 580.3C1834.5 580.8 1837.8 580.3 1841.1 578.2C1844.4 576.1 1846.3 572.8 1847.7 567.9C1849.1 563.0 1849.7 556.2 1849.3 548.9C1848.9 541.6 1847.1 532.1 1845.5 524.1C1843.9 516.1 1841.5 507.5 1839.6 500.7C1837.6 493.9 1835.8 487.7 1833.8 483.1C1831.8 478.5 1830.8 476.5 1827.9 472.9C1825.0 469.2 1820.6 464.6 1816.2 461.2C1811.8 457.8 1806.5 455.0 1801.6 452.4C1796.7 449.8 1790.4 446.6 1787.0 445.8C1783.6 445.0 1782.1 447.1 1781.1 447.3C1780.1 448.0 1777.7 449.9 1775.3 451.7C1772.9 453.5 1769.9 456.1 1766.5 458.3C1763.1 460.5 1758.7 463.5 1754.8 464.8C1750.9 466.1 1746.5 466.9 1743.1 466.3C1739.7 465.7 1736.6 463.8 1734.3 461.2C1732.0 458.6 1730.2 455.2 1729.2 450.9C1728.2 446.6 1728.6 438.2 1728.5 435.6Z" fill="url(#gBody)"/>
<g clip-path="url(#gBodyClip)">
<path d="M1680 520 C1720 560 1790 585 1850 590 L1850 600 L1670 600Z" fill="#5a28cc" opacity="0.5" filter="url(#b4)"/>
<path d="M1727.6 523.0l1.3 3.0M1788.9 463.2l4.0 0.2M1731.0 484.3l-2.9 0.0M1822.2 514.5l-0.8 1.8M1790.3 563.5l-0.3 3.7M1796.1 463.0l-2.4 2.3M1737.6 458.9l-2.7 1.2M1803.6 564.9l-2.7 3.3M1752.4 555.1l0.7 4.2M1828.9 467.2l2.0 0.9M1842.5 509.5l-0.9 2.2M1770.1 503.2l1.5 2.9M1782.3 568.0l-2.3 3.6M1825.3 578.9l-1.0 1.7M1826.0 575.6l-3.1 1.0M1802.8 481.4l-2.8 1.6M1735.0 462.9l-4.0 2.0M1704.0 555.1l0.5 1.9M1736.4 551.1l-1.5 0.6M1787.1 460.6l-1.6 1.9M1829.2 577.6l-0.1 4.5M1738.9 464.6l-0.5 1.5M1721.2 506.0l-0.7 1.9M1696.7 563.5l2.4 3.6M1831.7 502.2l0.4 3.0M1791.7 529.5l-0.6 3.3M1838.6 518.4l0.8 3.6M1727.5 492.6l-3.1 0.2M1776.7 456.4l0.9 3.1M1693.2 532.0l-0.7 1.5M1789.1 513.3l-1.4 2.2M1801.7 547.3l1.7 0.1M1796.8 575.4l2.0 2.0M1783.6 495.0l1.0 2.2M1748.3 529.5l1.5 2.1M1812.0 458.4l-0.8 3.6M1739.0 482.8l-1.8 1.3M1719.6 509.4l-1.1 1.5M1740.9 496.7l-2.4 1.4M1825.2 476.2l1.7 3.0M1829.8 511.4l1.4 1.2M1773.7 478.9l-3.3 2.3M1719.0 489.8l-2.8 2.0M1817.4 498.2l2.2 0.9M1815.4 488.9l1.3 2.4M1756.3 506.2l-1.9 0.5M1690.7 572.9l-4.1 1.6M1758.6 573.8l-2.1 0.5M1807.8 559.6l-1.5 2.7M1735.7 497.6l1.3 1.1M1783.0 490.9l-1.4 0.9M1832.8 541.7l-4.1 1.0M1832.1 527.1l3.7 0.2M1717.1 492.5l-1.5 2.7M1755.4 572.4l-0.9 2.4M1729.9 562.7l0.3 3.8M1745.6 479.7l-0.4 3.9M1717.1 554.0l-3.8 1.0M1820.1 455.9l-1.6 3.8M1697.9 488.9l2.0 2.3M1756.8 514.1l-1.1 1.0M1698.7 470.9l1.6 0.7M1844.0 561.8l2.9 0.8M1739.9 494.3l1.6 3.1M1782.7 500.1l2.1 1.4M1709.6 524.4l-1.7 2.1M1702.6 477.3l1.3 3.1M1813.7 502.5l-2.7 2.0M1758.2 501.6l0.0 3.6M1756.4 541.8l0.3 2.2M1774.7 541.9l2.7 0.6M1757.3 565.0l-2.6 0.5M1831.9 553.9l2.0 2.1M1709.5 556.7l-2.0 3.6M1815.2 538.4l-2.1 2.4M1706.3 528.5l1.9 0.0M1812.3 460.5l1.7 0.5M1829.1 477.4l4.0 0.3M1709.2 560.5l-2.1 3.4M1840.5 527.4l-1.3 1.0" stroke="#a880ff" stroke-width="1.5" opacity="0.36" fill="none" stroke-linecap="round" filter="url(#b05)"/>
</g>
<path d="M1790 428 L1806 412 L1832 474 L1816 464 L1800 454Z" fill="#5a1f3a" opacity="0.9" filter="url(#b1)"/>
<clipPath id="gFaceClip"><path d="M1712.0 300.0C1704.6 305.2 1706.7 309.9 1705.4 316.0C1704.1 322.1 1704.4 327.5 1704.4 336.3C1704.4 345.1 1705.0 358.0 1705.2 368.8C1705.4 379.6 1704.4 392.6 1705.6 401.3C1706.8 410.0 1708.6 415.4 1712.5 420.8C1716.4 426.2 1722.8 430.8 1728.8 433.8C1734.8 436.8 1741.3 439.2 1748.3 438.7C1755.3 438.1 1764.0 434.0 1771.0 430.5C1778.0 427.0 1785.6 422.4 1790.5 417.5C1795.4 412.6 1797.4 407.6 1800.3 401.3C1803.2 395.1 1806.7 390.2 1808.0 380.0C1809.3 369.8 1811.0 353.3 1808.0 340.0C1805.0 326.7 1799.7 309.2 1790.0 300.0C1780.3 290.8 1763.0 285.0 1750.0 285.0C1737.0 285.0 1719.4 294.8 1712.0 300.0Z"/></clipPath>
<path d="M1712.0 300.0C1704.6 305.2 1706.7 309.9 1705.4 316.0C1704.1 322.1 1704.4 327.5 1704.4 336.3C1704.4 345.1 1705.0 358.0 1705.2 368.8C1705.4 379.6 1704.4 392.6 1705.6 401.3C1706.8 410.0 1708.6 415.4 1712.5 420.8C1716.4 426.2 1722.8 430.8 1728.8 433.8C1734.8 436.8 1741.3 439.2 1748.3 438.7C1755.3 438.1 1764.0 434.0 1771.0 430.5C1778.0 427.0 1785.6 422.4 1790.5 417.5C1795.4 412.6 1797.4 407.6 1800.3 401.3C1803.2 395.1 1806.7 390.2 1808.0 380.0C1809.3 369.8 1811.0 353.3 1808.0 340.0C1805.0 326.7 1799.7 309.2 1790.0 300.0C1780.3 290.8 1763.0 285.0 1750.0 285.0C1737.0 285.0 1719.4 294.8 1712.0 300.0Z" fill="url(#gSkin)"/>
<g clip-path="url(#gFaceClip)"><ellipse cx="1750" cy="428" rx="30" ry="8" fill="#dba084" opacity="0.35" filter="url(#b4)" transform="rotate(-14 1750 428)"/></g>
<g transform="rotate(6 1801 375)"><ellipse cx="1801" cy="375.3" rx="6.8" ry="14.6" fill="#f6c6a4"/><ellipse cx="1799.6" cy="376.5" rx="3.4" ry="9" fill="#e4a686" opacity="0.75" filter="url(#b1)"/></g>
<circle cx="1801.2" cy="393.8" r="3" fill="#2fd23a"/><circle cx="1801.2" cy="393.8" r="1.3" fill="#116b1c"/>
<path d="M1705.2 313.5C1705.7 310.8 1705.8 302.4 1708.4 297.3C1711.0 292.2 1714.5 287.2 1720.6 282.6C1726.7 278.0 1737.1 272.5 1745.0 269.6C1752.9 266.7 1759.7 265.4 1767.8 265.4C1775.9 265.4 1785.4 266.5 1793.8 269.6C1802.2 272.8 1811.3 278.1 1818.1 284.3C1824.9 290.5 1830.9 299.7 1834.4 307.0C1837.9 314.3 1838.6 320.5 1839.3 328.1C1840.0 335.7 1839.6 343.0 1838.5 352.5C1837.4 362.0 1834.4 375.4 1832.8 385.0C1831.2 394.6 1829.0 402.2 1828.7 410.0C1828.4 417.8 1830.1 424.6 1830.8 431.9C1831.5 439.2 1832.8 447.0 1833.0 453.9C1833.2 460.8 1832.4 470.2 1832.3 473.5C1831.6 473.4 1830.6 474.9 1827.9 472.9C1825.2 470.8 1820.1 465.6 1816.2 461.2C1812.3 456.8 1807.6 451.5 1804.5 446.6C1801.4 441.7 1797.9 436.7 1797.6 431.9C1797.3 427.1 1800.6 423.0 1802.5 418.0C1804.4 413.0 1807.7 407.5 1809.0 402.0C1810.3 396.5 1810.8 391.9 1810.4 385.0C1810.0 378.1 1808.5 368.7 1806.8 360.6C1805.1 352.5 1803.0 342.7 1800.3 336.3C1797.6 329.9 1792.1 324.6 1790.5 322.3C1790.1 323.9 1789.2 328.9 1788.0 332.0C1786.8 335.1 1784.2 339.5 1783.4 341.0C1782.7 338.3 1781.5 330.6 1779.0 325.0C1776.5 319.4 1770.3 310.5 1768.6 307.6C1768.3 310.0 1768.0 317.2 1767.0 322.0C1766.0 326.8 1763.6 333.8 1762.9 336.2C1761.9 333.2 1759.5 323.9 1757.0 318.0C1754.5 312.1 1751.1 305.3 1748.0 301.0C1744.9 296.7 1740.2 293.5 1738.6 292.0C1737.7 291.9 1735.7 291.1 1733.0 291.6C1730.3 292.1 1725.7 293.1 1722.3 294.8C1718.9 296.6 1715.3 299.0 1712.5 302.1C1709.7 305.2 1706.4 311.6 1705.2 313.5Z" fill="url(#gHair)"/>
<clipPath id="gHairClip"><path d="M1705.2 313.5C1705.7 310.8 1705.8 302.4 1708.4 297.3C1711.0 292.2 1714.5 287.2 1720.6 282.6C1726.7 278.0 1737.1 272.5 1745.0 269.6C1752.9 266.7 1759.7 265.4 1767.8 265.4C1775.9 265.4 1785.4 266.5 1793.8 269.6C1802.2 272.8 1811.3 278.1 1818.1 284.3C1824.9 290.5 1830.9 299.7 1834.4 307.0C1837.9 314.3 1838.6 320.5 1839.3 328.1C1840.0 335.7 1839.6 343.0 1838.5 352.5C1837.4 362.0 1834.4 375.4 1832.8 385.0C1831.2 394.6 1829.0 402.2 1828.7 410.0C1828.4 417.8 1830.1 424.6 1830.8 431.9C1831.5 439.2 1832.8 447.0 1833.0 453.9C1833.2 460.8 1832.4 470.2 1832.3 473.5C1831.6 473.4 1830.6 474.9 1827.9 472.9C1825.2 470.8 1820.1 465.6 1816.2 461.2C1812.3 456.8 1807.6 451.5 1804.5 446.6C1801.4 441.7 1797.9 436.7 1797.6 431.9C1797.3 427.1 1800.6 423.0 1802.5 418.0C1804.4 413.0 1807.7 407.5 1809.0 402.0C1810.3 396.5 1810.8 391.9 1810.4 385.0C1810.0 378.1 1808.5 368.7 1806.8 360.6C1805.1 352.5 1803.0 342.7 1800.3 336.3C1797.6 329.9 1792.1 324.6 1790.5 322.3C1790.1 323.9 1789.2 328.9 1788.0 332.0C1786.8 335.1 1784.2 339.5 1783.4 341.0C1782.7 338.3 1781.5 330.6 1779.0 325.0C1776.5 319.4 1770.3 310.5 1768.6 307.6C1768.3 310.0 1768.0 317.2 1767.0 322.0C1766.0 326.8 1763.6 333.8 1762.9 336.2C1761.9 333.2 1759.5 323.9 1757.0 318.0C1754.5 312.1 1751.1 305.3 1748.0 301.0C1744.9 296.7 1740.2 293.5 1738.6 292.0C1737.7 291.9 1735.7 291.1 1733.0 291.6C1730.3 292.1 1725.7 293.1 1722.3 294.8C1718.9 296.6 1715.3 299.0 1712.5 302.1C1709.7 305.2 1706.4 311.6 1705.2 313.5Z"/></clipPath>
<g clip-path="url(#gHairClip)">
<path d="M1705.0 316.0C1706.2 314.0 1709.6 307.3 1712.5 304.1C1715.4 300.9 1718.4 298.8 1722.3 297.0C1726.2 295.2 1731.7 292.5 1736.0 293.5C1740.3 294.5 1744.5 298.6 1748.0 303.0C1751.5 307.4 1754.7 314.2 1757.0 320.0C1759.3 325.8 1761.2 335.0 1762.0 338.0" stroke="#c8421f" stroke-width="5" opacity="0.5" fill="none" filter="url(#b2)"/>
<path d="M1769.0 300.0C1770.8 303.7 1777.5 315.0 1780.0 322.0C1782.5 329.0 1782.5 340.7 1784.0 342.0C1785.5 343.3 1787.8 333.3 1789.0 330.0C1790.2 326.7 1789.0 321.0 1791.0 322.0C1793.0 323.0 1798.2 329.7 1801.0 336.0C1803.8 342.3 1806.2 350.2 1808.0 360.0C1809.8 369.8 1811.3 389.2 1812.0 395.0" stroke="#c8421f" stroke-width="5" opacity="0.5" fill="none" filter="url(#b2)"/>
<ellipse cx="1800" cy="300" rx="18" ry="26" fill="#f4714a" opacity="0.55" filter="url(#b8)"/>
<path d="M1810.0 395.0C1808.8 398.8 1804.8 411.5 1803.0 418.0C1801.2 424.5 1798.2 428.7 1799.0 434.0C1799.8 439.3 1803.5 444.0 1808.0 450.0C1812.5 456.0 1823.0 466.7 1826.0 470.0" stroke="#b83c22" stroke-width="7" opacity="0.6" fill="none" filter="url(#b2)"/>
<path d="M1745.0 272.0C1747.5 275.0 1756.2 284.2 1760.0 290.0C1763.8 295.8 1766.7 304.2 1768.0 307.0" stroke="#d64d2a" stroke-width="3" opacity="0.5" fill="none" filter="url(#b1)"/>
</g>
<path d="M1711.5 308.5 Q1717 307.5 1722.5 311.8" stroke="#e5562c" stroke-width="6.2" stroke-linecap="round" fill="none"/>
<path d="M1731.6 317.6C1731.4 316.2 1732.4 314.0 1734.0 313.0C1735.6 312.0 1738.7 311.5 1741.0 311.6C1743.3 311.7 1745.7 312.4 1748.0 313.8C1750.3 315.2 1752.9 317.4 1755.0 320.0C1757.1 322.6 1759.7 327.1 1760.8 329.4C1761.9 331.7 1762.4 333.5 1761.6 333.6C1760.8 333.7 1758.1 331.5 1756.0 330.0C1753.9 328.5 1751.5 326.0 1749.0 324.6C1746.5 323.2 1743.3 321.9 1741.0 321.4C1738.7 320.9 1736.6 322.2 1735.0 321.6C1733.4 321.0 1731.8 319.0 1731.6 317.6Z" fill="#e5562c"/>
<ellipse cx="1709.7" cy="330.8" rx="2.9" ry="5.7" fill="#1d1a1c"/>
<ellipse cx="1738.8" cy="341.2" rx="5.3" ry="6.3" fill="#1d1a1c"/>
<path d="M1718.4 348.0C1717.1 348.0 1715.5 353.5 1714.6 356.0C1713.7 358.5 1713.0 361.1 1713.2 363.0C1713.4 364.9 1714.4 366.6 1715.6 367.4C1716.8 368.2 1719.1 368.2 1720.4 367.6C1721.7 367.0 1723.0 365.5 1723.4 363.6C1723.8 361.7 1723.4 358.6 1722.6 356.0C1721.8 353.4 1719.7 348.0 1718.4 348.0Z" fill="url(#gNose)" filter="url(#b1)"/>
<path d="M1707.0 378.0C1705.3 379.8 1705.3 388.3 1705.6 392.0C1705.9 395.7 1707.3 397.7 1709.0 400.0C1710.7 402.3 1713.2 404.6 1716.0 406.0C1718.8 407.4 1722.3 408.6 1725.5 408.4C1728.7 408.2 1732.3 406.5 1735.0 404.6C1737.7 402.7 1740.4 399.2 1741.6 397.0C1742.8 394.8 1744.7 393.4 1742.4 391.6C1740.1 389.8 1732.4 387.8 1728.0 386.0C1723.6 384.2 1719.5 382.3 1716.0 381.0C1712.5 379.7 1708.7 376.2 1707.0 378.0Z" fill="#f3c09f"/>
<path d="M1708.6 381.4C1710.2 382.0 1714.4 383.6 1718.0 384.8C1721.6 386.0 1726.1 387.3 1730.0 388.6C1733.9 389.9 1739.3 391.8 1741.2 392.4C1740.9 393.1 1740.5 395.3 1739.6 396.6C1738.7 397.9 1737.6 399.3 1736.0 400.4C1734.4 401.5 1731.9 402.5 1730.0 403.0C1728.1 403.5 1726.5 404.0 1724.5 403.6C1722.5 403.2 1720.0 402.2 1718.0 400.8C1716.0 399.4 1714.0 397.1 1712.6 395.0C1711.2 392.9 1710.1 389.2 1709.6 388.0L1708.6 381.4Z" fill="#eceef3"/>
<path d="M1711.0 392.0C1711.8 393.2 1713.8 397.3 1716.0 399.0C1718.2 400.7 1721.0 402.2 1724.0 402.4C1727.0 402.6 1732.3 400.4 1734.0 400.0" fill="none" stroke="#c9cdd8" stroke-width="2.4" opacity="0.8" filter="url(#b1)"/>
</g>
<use href="#man" transform="translate(180.34 -148.88) scale(0.5975)"/>
<use href="#man" transform="translate(0.0 0)"/>
<use href="#man" transform="translate(400.0 0)"/>
<use href="#man" transform="translate(794.2 0)"/>
<use href="#man" transform="translate(1167.2 0)"/>
<g id="agent" filter="url(#soft)">
<clipPath id="aBodyClip"><path d="M1622.1 1080.1C1619.9 1081.0 1613.5 1082.5 1608.8 1085.3C1604.1 1088.1 1598.0 1092.4 1594.1 1097.1C1590.2 1101.8 1587.2 1106.3 1585.3 1113.2C1583.3 1120.1 1582.8 1129.6 1582.4 1138.2C1582.0 1146.8 1581.9 1157.8 1583.1 1164.7C1584.3 1171.6 1584.9 1174.2 1589.7 1179.4C1594.5 1184.6 1603.2 1190.7 1611.8 1195.6C1620.4 1200.5 1630.2 1204.9 1641.2 1208.8C1652.2 1212.7 1665.7 1216.5 1677.9 1219.1C1690.2 1221.7 1704.9 1223.4 1714.7 1224.3C1724.5 1225.2 1732.2 1225.5 1736.8 1224.3C1741.4 1223.1 1741.5 1221.5 1742.6 1217.0C1743.7 1212.5 1743.6 1205.3 1743.4 1197.1C1743.2 1188.9 1742.6 1176.9 1741.2 1167.6C1739.8 1158.3 1738.0 1149.3 1735.3 1141.2C1732.6 1133.1 1728.9 1125.2 1725.0 1119.1C1721.1 1113.0 1716.0 1108.6 1711.8 1104.4C1707.6 1100.2 1703.2 1096.9 1700.0 1094.1C1696.8 1091.3 1693.8 1088.6 1692.6 1087.5C1690.6 1089.1 1685.8 1094.3 1680.9 1097.1C1676.0 1099.9 1669.1 1102.6 1663.2 1104.4C1657.3 1106.2 1651.0 1108.1 1645.6 1108.1C1640.2 1108.1 1634.6 1106.7 1630.9 1104.4C1627.2 1102.1 1625.0 1098.1 1623.5 1094.1C1622.0 1090.0 1622.3 1082.4 1622.1 1080.1Z"/></clipPath>
<clipPath id="aNeckClip"><path d="M1621 1060 L1621 1098 C1628 1116 1662 1114 1695 1092 L1693 1040Z"/></clipPath>
<path d="M1621 1060 L1621 1098 C1628 1116 1662 1114 1695 1092 L1693 1040Z" fill="#f6c9a8"/>
<g clip-path="url(#aNeckClip)"><path d="M1600 1060 C1625 1090 1670 1090 1705 1050 L1705 1075 C1680 1095 1640 1098 1615 1085Z" fill="#d9997d" opacity="0.55" filter="url(#b4)"/></g>
<path d="M1622.1 1080.1C1619.9 1081.0 1613.5 1082.5 1608.8 1085.3C1604.1 1088.1 1598.0 1092.4 1594.1 1097.1C1590.2 1101.8 1587.2 1106.3 1585.3 1113.2C1583.3 1120.1 1582.8 1129.6 1582.4 1138.2C1582.0 1146.8 1581.9 1157.8 1583.1 1164.7C1584.3 1171.6 1584.9 1174.2 1589.7 1179.4C1594.5 1184.6 1603.2 1190.7 1611.8 1195.6C1620.4 1200.5 1630.2 1204.9 1641.2 1208.8C1652.2 1212.7 1665.7 1216.5 1677.9 1219.1C1690.2 1221.7 1704.9 1223.4 1714.7 1224.3C1724.5 1225.2 1732.2 1225.5 1736.8 1224.3C1741.4 1223.1 1741.5 1221.5 1742.6 1217.0C1743.7 1212.5 1743.6 1205.3 1743.4 1197.1C1743.2 1188.9 1742.6 1176.9 1741.2 1167.6C1739.8 1158.3 1738.0 1149.3 1735.3 1141.2C1732.6 1133.1 1728.9 1125.2 1725.0 1119.1C1721.1 1113.0 1716.0 1108.6 1711.8 1104.4C1707.6 1100.2 1703.2 1096.9 1700.0 1094.1C1696.8 1091.3 1693.8 1088.6 1692.6 1087.5C1690.6 1089.1 1685.8 1094.3 1680.9 1097.1C1676.0 1099.9 1669.1 1102.6 1663.2 1104.4C1657.3 1106.2 1651.0 1108.1 1645.6 1108.1C1640.2 1108.1 1634.6 1106.7 1630.9 1104.4C1627.2 1102.1 1625.0 1098.1 1623.5 1094.1C1622.0 1090.0 1622.3 1082.4 1622.1 1080.1Z" fill="url(#aBody)"/>
<g clip-path="url(#aBodyClip)">
<path d="M1580 1170 C1620 1215 1700 1232 1750 1232 L1750 1240 L1570 1240Z" fill="#c8922a" opacity="0.5" filter="url(#b4)"/>
<ellipse cx="1725" cy="1200" rx="22" ry="24" fill="#cf9a2c" opacity="0.5" filter="url(#b8)"/>
<path d="M1622.1 1080.1L1610.3 1087.2C1610.5 1090.8 1610.7 1103.0 1611.8 1108.8C1612.9 1114.6 1616.1 1119.9 1616.9 1122.1L1627.2 1113.2L1632.4 1130.1C1635.1 1128.8 1642.1 1125.1 1648.5 1122.1C1654.9 1119.0 1663.7 1115.2 1670.6 1111.8C1677.5 1108.4 1684.5 1104.5 1689.7 1101.5C1694.9 1098.5 1699.5 1095.3 1701.5 1094.1L1692.6 1087.5C1690.6 1089.1 1685.8 1094.3 1680.9 1097.1C1676.0 1099.9 1669.1 1102.6 1663.2 1104.4C1657.3 1106.2 1651.0 1108.1 1645.6 1108.1C1640.2 1108.1 1634.6 1106.7 1630.9 1104.4C1627.2 1102.1 1625.0 1098.1 1623.5 1094.1C1622.0 1090.0 1622.3 1082.4 1622.1 1080.1Z" fill="#f8d155"/>
<path d="M1632.4 1131.1C1635.1 1129.8 1642.1 1126.1 1648.5 1123.1C1654.9 1120.0 1663.7 1116.2 1670.6 1112.8C1677.5 1109.4 1684.5 1105.5 1689.7 1102.5C1694.9 1099.5 1699.5 1096.3 1701.5 1095.1" stroke="#d7a233" stroke-width="1.6" fill="none" opacity="0.7" filter="url(#b1)"/>
<path d="M1610.3 1087.2C1610.5 1090.8 1610.4 1103.0 1611.4 1108.8C1612.4 1114.6 1615.7 1119.9 1616.5 1122.1" stroke="#dcaa38" stroke-width="1.4" fill="none" opacity="0.6" filter="url(#b1)"/>
<path d="M1656.6 1168.3l-2.8 0.7M1665.2 1171.7l2.5 1.7M1684.3 1196.7l2.3 0.7M1600.1 1198.8l-0.9 1.3M1739.2 1217.7l-1.6 3.0M1610.6 1101.8l-0.1 1.7M1615.7 1129.5l2.9 0.3M1654.7 1202.8l-0.2 3.4M1664.0 1180.8l0.3 2.3M1741.6 1221.5l-3.2 1.7M1635.2 1128.0l1.1 1.3M1705.5 1148.8l-2.4 1.2M1735.5 1203.4l2.1 0.0M1728.0 1157.3l-2.7 0.2M1597.4 1176.8l-1.8 1.5M1599.6 1140.6l-3.7 0.4M1604.4 1130.1l1.6 0.5M1710.3 1121.7l-0.5 2.8M1615.7 1189.3l3.1 1.4M1604.2 1151.3l1.8 1.4M1737.5 1198.0l2.4 3.4M1618.9 1148.1l-3.1 1.5M1601.7 1220.7l1.8 1.4M1706.5 1140.1l1.0 1.4M1600.1 1171.1l2.4 2.3M1644.0 1155.3l-2.9 0.4M1675.6 1205.7l1.6 1.1M1727.7 1199.8l1.5 1.5M1701.4 1214.7l3.5 2.5M1723.6 1173.6l0.4 1.8M1592.0 1217.4l2.6 2.5M1626.1 1200.5l-0.7 2.3M1613.4 1187.9l2.1 0.5M1673.3 1204.0l-0.8 2.2M1729.1 1124.9l2.3 0.1M1655.5 1107.4l2.2 1.4M1675.3 1116.1l1.8 3.8M1739.0 1180.1l-1.8 2.7M1607.9 1104.3l4.2 0.2M1695.4 1217.5l3.4 0.2M1661.2 1189.1l2.4 3.8M1597.7 1166.6l-2.8 3.1M1701.0 1185.9l-3.4 2.6M1640.9 1183.6l-3.9 1.3M1651.1 1196.4l-2.9 1.3M1683.5 1146.6l-0.9 3.2M1598.5 1178.0l-4.1 0.1M1699.6 1147.4l-2.2 2.4M1654.7 1202.3l3.6 1.0M1590.6 1173.4l0.1 2.2M1694.9 1160.7l-1.5 4.0M1625.9 1101.4l2.1 2.9M1617.6 1120.7l-3.3 1.0M1654.9 1208.8l1.8 3.0M1617.0 1152.6l-3.5 2.4M1723.3 1146.9l-0.6 2.4M1607.2 1160.6l-3.5 2.0M1696.9 1215.9l1.3 1.5M1656.3 1133.6l2.1 1.7M1683.6 1160.3l2.2 3.4M1739.2 1155.2l1.6 0.4M1722.2 1105.1l-2.0 2.5M1634.2 1196.6l1.9 0.1M1657.0 1103.0l-1.9 1.1M1608.0 1105.7l-1.1 2.6M1684.3 1179.9l-3.6 2.5M1692.8 1124.3l0.2 2.0M1587.7 1157.6l-1.3 1.6M1628.5 1142.2l-1.8 2.5M1681.9 1192.3l1.3 3.7M1727.4 1110.6l-3.6 0.8M1606.3 1155.3l-1.6 3.9M1644.8 1169.4l-3.6 1.4M1733.3 1156.6l-1.0 1.9M1698.6 1199.8l-1.6 3.3M1619.3 1209.8l-4.4 0.3M1669.8 1196.5l2.3 3.6M1719.5 1142.5l2.7 0.7M1671.8 1193.7l0.1 1.6M1712.2 1107.8l-1.6 1.2M1638.3 1196.1l1.8 0.8M1666.6 1188.3l-3.1 1.7M1733.5 1160.1l-1.7 0.3M1620.5 1164.3l2.3 2.9M1685.7 1163.8l-2.8 1.5M1634.6 1146.5l-3.7 2.0M1618.5 1203.8l-3.1 0.3M1675.4 1124.5l-0.3 3.0M1680.4 1103.4l-3.0 0.3M1648.5 1197.7l-0.6 2.9" stroke="#fbe08a" stroke-width="1.5" opacity="0.42" fill="none" stroke-linecap="round" filter="url(#b05)"/>
<path d="M1616.9 1122.1L1627.2 1113.2L1630.1 1129.4C1629.5 1133.3 1627.2 1144.1 1626.5 1152.9C1625.8 1161.7 1625.3 1173.5 1625.7 1182.4C1626.1 1191.3 1628.2 1202.1 1628.7 1206.1L1611.0 1194.9C1610.9 1190.4 1610.0 1176.5 1610.3 1167.6C1610.5 1158.6 1611.4 1148.8 1612.5 1141.2C1613.6 1133.6 1616.2 1125.3 1616.9 1122.1Z" fill="url(#aTie)"/>
</g>
<clipPath id="aFaceClip"><path d="M1614.0 938.0C1606.8 942.2 1609.0 944.5 1606.8 950.4C1604.6 956.2 1602.2 965.2 1601.1 973.1C1600.0 981.0 1600.3 988.0 1600.3 997.5C1600.3 1007.0 1600.1 1019.7 1601.1 1030.0C1602.0 1040.3 1602.8 1052.0 1606.0 1059.3C1609.2 1066.6 1614.1 1070.9 1620.6 1073.9C1627.1 1076.9 1636.9 1077.4 1645.0 1077.1C1653.1 1076.8 1661.8 1075.0 1669.4 1072.3C1677.0 1069.6 1685.3 1065.2 1690.5 1060.9C1695.7 1056.6 1697.2 1051.8 1700.3 1046.3C1703.4 1040.8 1706.7 1035.7 1709.0 1028.0C1711.3 1020.3 1713.5 1008.8 1714.0 1000.0C1714.5 991.2 1716.0 985.0 1712.0 975.0C1708.0 965.0 1700.3 948.3 1690.0 940.0C1679.7 931.7 1662.7 925.3 1650.0 925.0C1637.3 924.7 1621.2 933.8 1614.0 938.0Z"/></clipPath>
<path d="M1614.0 938.0C1606.8 942.2 1609.0 944.5 1606.8 950.4C1604.6 956.2 1602.2 965.2 1601.1 973.1C1600.0 981.0 1600.3 988.0 1600.3 997.5C1600.3 1007.0 1600.1 1019.7 1601.1 1030.0C1602.0 1040.3 1602.8 1052.0 1606.0 1059.3C1609.2 1066.6 1614.1 1070.9 1620.6 1073.9C1627.1 1076.9 1636.9 1077.4 1645.0 1077.1C1653.1 1076.8 1661.8 1075.0 1669.4 1072.3C1677.0 1069.6 1685.3 1065.2 1690.5 1060.9C1695.7 1056.6 1697.2 1051.8 1700.3 1046.3C1703.4 1040.8 1706.7 1035.7 1709.0 1028.0C1711.3 1020.3 1713.5 1008.8 1714.0 1000.0C1714.5 991.2 1716.0 985.0 1712.0 975.0C1708.0 965.0 1700.3 948.3 1690.0 940.0C1679.7 931.7 1662.7 925.3 1650.0 925.0C1637.3 924.7 1621.2 933.8 1614.0 938.0Z" fill="url(#aSkin)"/>
<g clip-path="url(#aFaceClip)"><ellipse cx="1650" cy="1066" rx="40" ry="10" fill="#d9987c" opacity="0.3" filter="url(#b4)" transform="rotate(-10 1650 1068)"/></g>
<clipPath id="aHairClip"><path d="M1606.8 951.4C1607.8 948.2 1609.4 938.1 1612.5 932.5C1615.6 926.9 1620.1 922.0 1625.5 917.9C1630.9 913.8 1638.5 910.0 1645.0 908.1C1651.5 906.2 1657.7 905.5 1664.5 906.3C1671.3 907.1 1678.8 909.2 1685.6 913.0C1692.4 916.8 1699.9 923.3 1705.1 929.3C1710.2 935.3 1714.2 942.3 1716.5 948.8C1718.8 955.3 1719.5 962.0 1719.2 968.3C1718.9 974.6 1715.6 983.5 1714.9 986.5L1692.1 989.8C1690.8 985.7 1687.5 972.1 1684.0 965.0C1680.5 957.9 1676.2 951.8 1671.0 947.1C1665.8 942.4 1659.3 938.6 1653.1 936.6C1646.9 934.6 1639.5 934.4 1633.6 934.9C1627.6 935.4 1621.9 936.6 1617.4 939.4C1612.9 942.1 1608.6 949.4 1606.8 951.4Z"/></clipPath>
<path d="M1606.8 951.4C1607.8 948.2 1609.4 938.1 1612.5 932.5C1615.6 926.9 1620.1 922.0 1625.5 917.9C1630.9 913.8 1638.5 910.0 1645.0 908.1C1651.5 906.2 1657.7 905.5 1664.5 906.3C1671.3 907.1 1678.8 909.2 1685.6 913.0C1692.4 916.8 1699.9 923.3 1705.1 929.3C1710.2 935.3 1714.2 942.3 1716.5 948.8C1718.8 955.3 1719.5 962.0 1719.2 968.3C1718.9 974.6 1715.6 983.5 1714.9 986.5L1692.1 989.8C1690.8 985.7 1687.5 972.1 1684.0 965.0C1680.5 957.9 1676.2 951.8 1671.0 947.1C1665.8 942.4 1659.3 938.6 1653.1 936.6C1646.9 934.6 1639.5 934.4 1633.6 934.9C1627.6 935.4 1621.9 936.6 1617.4 939.4C1612.9 942.1 1608.6 949.4 1606.8 951.4Z" fill="url(#aHair)"/>
<g clip-path="url(#aHairClip)">
<path d="M1693.0 992.0C1691.7 987.8 1688.5 974.1 1685.0 967.0C1681.5 959.9 1677.3 953.8 1672.0 949.1C1666.7 944.4 1659.5 940.8 1653.1 938.8C1646.7 936.8 1639.5 936.7 1633.6 937.2C1627.6 937.7 1622.0 939.0 1617.4 941.6C1612.8 944.2 1607.9 951.1 1606.0 953.0" stroke="#c24322" stroke-width="5" opacity="0.5" fill="none" filter="url(#b2)"/>
<path d="M1650.0 908.0C1653.0 910.8 1662.7 918.0 1668.0 925.0C1673.3 932.0 1678.3 940.8 1682.0 950.0C1685.7 959.2 1688.7 975.0 1690.0 980.0" stroke="#c94724" stroke-width="2.4" opacity="0.45" fill="none" filter="url(#b1)"/>
<path d="M1664.0 907.0C1667.0 910.0 1677.0 917.8 1682.0 925.0C1687.0 932.2 1691.0 940.5 1694.0 950.0C1697.0 959.5 1699.0 976.7 1700.0 982.0" stroke="#c94724" stroke-width="2.4" opacity="0.45" fill="none" filter="url(#b1)"/>
<path d="M1636.0 912.0C1639.3 914.7 1650.0 921.7 1656.0 928.0C1662.0 934.3 1669.3 946.3 1672.0 950.0" stroke="#c94724" stroke-width="2.4" opacity="0.45" fill="none" filter="url(#b1)"/>
</g>
<path d="M1653.0 908.2C1655.5 908.3 1663.0 907.8 1668.0 908.6C1673.0 909.4 1677.7 909.5 1682.8 913.2C1687.9 916.9 1694.7 923.6 1698.6 930.9C1702.5 938.2 1704.7 949.0 1706.0 956.9C1707.3 964.8 1707.1 971.3 1706.4 978.0C1705.7 984.7 1702.4 993.8 1701.6 997.0" stroke="#3f3f3f" stroke-width="8.5" fill="none" stroke-linecap="round"/>
<path d="M1655.0 906.2C1657.2 906.3 1663.0 905.8 1668.0 906.6C1673.0 907.4 1679.3 907.3 1684.8 911.2C1690.3 915.1 1696.9 922.3 1700.8 929.9C1704.7 937.5 1707.1 948.9 1708.4 956.9C1709.7 964.9 1708.7 974.5 1708.8 978.0" stroke="#5a5a5a" stroke-width="2.4" fill="none" stroke-linecap="round" opacity="0.7"/>
<g transform="rotate(14 1692 1014)">
<ellipse cx="1687.3" cy="1012.1" rx="13.4" ry="21.5" fill="#4a4a48"/>
<ellipse cx="1696" cy="1014.6" rx="14.4" ry="19.8" fill="#ee2f68"/>
<ellipse cx="1701.2" cy="1017.4" rx="11.6" ry="15.8" fill="#efc542"/>
<ellipse cx="1699" cy="1013" rx="7" ry="10" fill="#f6d45a" opacity="0.6" filter="url(#b2)"/>
</g>
<path d="M1607.4 957.4 Q1612.6 956.4 1617.2 960.8" stroke="#e5582e" stroke-width="5.6" stroke-linecap="round" fill="none"/>
<path d="M1624.6 966.4C1624.3 965.0 1625.4 963.3 1627.0 962.4C1628.6 961.5 1631.7 961.0 1634.0 961.2C1636.3 961.4 1638.7 962.0 1641.0 963.4C1643.3 964.8 1645.7 966.9 1648.0 969.6C1650.3 972.3 1653.2 977.1 1654.6 979.4C1656.0 981.7 1657.2 983.4 1656.6 983.6C1656.0 983.8 1653.1 982.0 1651.0 980.4C1648.9 978.8 1646.5 975.7 1644.0 974.0C1641.5 972.3 1638.5 971.0 1636.0 970.4C1633.5 969.8 1630.9 971.3 1629.0 970.6C1627.1 969.9 1624.9 967.8 1624.6 966.4Z" fill="#e5582e"/>
<ellipse cx="1606.8" cy="978" rx="3.2" ry="6.2" fill="#1d1a1c"/>
<ellipse cx="1630.1" cy="986.1" rx="5.4" ry="6.8" fill="#1d1a1c"/>
<path d="M1614.4 984.0C1613.1 984.3 1611.3 989.0 1610.0 992.0C1608.7 995.0 1607.3 999.0 1606.8 1002.0C1606.3 1005.0 1606.1 1008.1 1606.8 1010.0C1607.5 1011.9 1609.2 1013.1 1611.0 1013.6C1612.8 1014.1 1615.8 1014.1 1617.4 1013.2C1619.0 1012.3 1620.0 1010.5 1620.4 1008.0C1620.8 1005.5 1620.3 1001.0 1619.8 998.0C1619.3 995.0 1618.5 992.3 1617.6 990.0C1616.7 987.7 1615.7 983.7 1614.4 984.0Z" fill="url(#aNose)" filter="url(#b1)"/>
<path d="M1602.6 1023.2C1604.2 1024.0 1608.4 1026.5 1612.0 1028.0C1615.6 1029.5 1619.9 1030.9 1624.0 1032.0C1628.1 1033.1 1634.3 1034.2 1636.4 1034.6C1636.3 1035.5 1636.7 1038.7 1636.0 1040.0C1635.3 1041.3 1635.1 1041.9 1632.0 1042.6C1628.9 1043.3 1621.2 1044.3 1617.4 1044.2C1613.6 1044.1 1611.2 1043.4 1609.0 1042.0C1606.8 1040.6 1605.2 1037.0 1604.4 1036.0L1602.6 1023.2Z" fill="#e6eaf1"/>
<path d="M1686.0 1027.0C1683.7 1028.2 1676.7 1031.9 1672.0 1034.0C1667.3 1036.1 1663.3 1038.2 1658.0 1039.8C1652.7 1041.4 1645.7 1042.8 1640.0 1043.8C1634.3 1044.8 1629.7 1045.5 1624.0 1045.6C1618.3 1045.7 1609.0 1044.8 1606.0 1044.6" stroke="#e6b93c" stroke-width="2.4" fill="none" stroke-linecap="round"/>
<ellipse cx="1602.2" cy="1044" rx="5" ry="5.6" fill="#4a4a48"/>
</g>
<rect x="40.3" y="904.2" width="160.1" height="305.3" fill="none" stroke="#0328fb" stroke-width="2.8" stroke-linejoin="round"/>
<rect x="440.3" y="904.2" width="160.1" height="305.3" fill="none" stroke="#0328fb" stroke-width="2.8" stroke-linejoin="round"/>
<rect x="834.5" y="904.2" width="160.1" height="305.3" fill="none" stroke="#0328fb" stroke-width="2.8" stroke-linejoin="round"/>
<rect x="1207.5" y="904.2" width="160.1" height="305.3" fill="none" stroke="#ff2200" stroke-width="2.8" stroke-linejoin="round"/>
<rect x="1580.5" y="904.3" width="164.1" height="322.2" fill="none" stroke="#00f400" stroke-width="3.3" stroke-linejoin="round"/>
</svg>
<div class="lbl" style="left:770.0px;top:347.7px">运维服务总监</div>
<div class="lbl" style="left:313.5px;top:453.7px">质量管理</div>
<div class="lbl" style="left:1464.0px;top:454.2px">项目经理</div>
<div class="lbl" style="left:12.5px;top:821.2px"><span class="lat">L2<span class="hy">-</span></span>网络组</div>
<div class="lbl" style="left:404.5px;top:821.2px"><span class="lat">L2<span class="hy">-</span></span>系统组</div>
<div class="lbl" style="left:795.5px;top:821.2px"><span class="lat">L2<span class="hy">-</span></span>安全组</div>
<div class="lbl" style="left:1187.5px;top:821.2px"><span class="lat">L<span style="display:inline-block;transform:scaleX(0.6);transform-origin:0 50%;margin-left:-1.8px;margin-right:-7.7px">1</span><span class="hy">-</span></span><span style="word-spacing:1.7px"> 一线组</span></div>
<div class="lbl" style="left:1586.0px;top:821.2px">服务台</div>
</body></html>
